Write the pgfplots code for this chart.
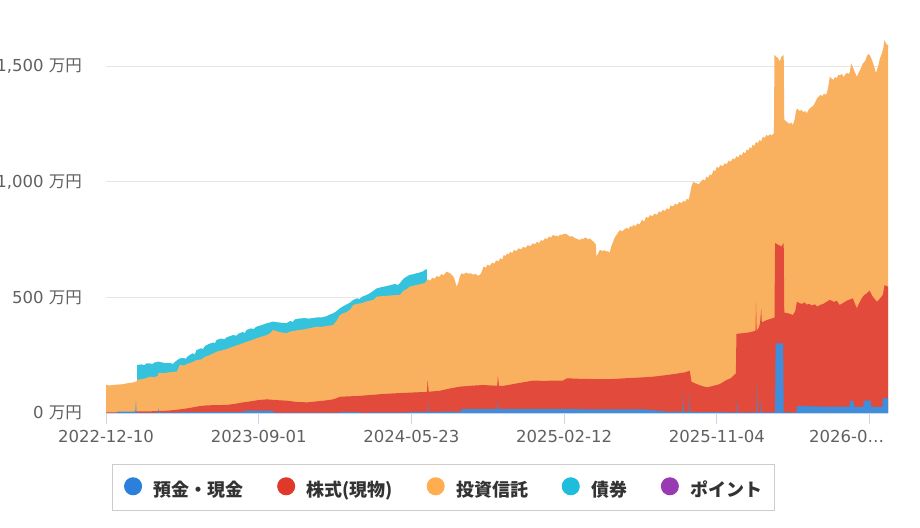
\documentclass[border=0pt]{standalone}
\usepackage{fontspec}
\setmainfont{DejaVu Sans}
\newfontfamily\cjk{Noto Sans CJK JP}
\usepackage{pgfplots}
\pgfplotsset{compat=1.18}
\usepackage{pgfplotstable}

\definecolor{cBlueA}{HTML}{3E8EDB}
\definecolor{cRedA}{HTML}{E24A3B}
\definecolor{cOrangeA}{HTML}{FAB15F}
\definecolor{cCyanA}{HTML}{35C2DD}
\definecolor{cBlue}{HTML}{2A80DA}
\definecolor{cRed}{HTML}{E0392B}
\definecolor{cOrange}{HTML}{FFAD4E}
\definecolor{cCyan}{HTML}{1EBDDC}
\definecolor{cPurple}{HTML}{9A3AB3}
\definecolor{gridc}{HTML}{E6E6E6}
\definecolor{axisc}{HTML}{CCD6EB}
\definecolor{tickc}{HTML}{606060}
\definecolor{legc}{HTML}{CCCCCC}
\definecolor{legtext}{HTML}{333333}

% x = days since 2022-12-10; y = top edge of each band (cumulative, in 万円)
% top of 債券 band
\pgfplotstableread{
d v
54 208
62 210
66 206
70 214
76 215
80 211
84 218
91 222
98 218
105 215
112 216
116 212
120 222
128 236
135 238
138 234
142 245
150 258
154 253
157 272
165 280
168 276
172 290
180 300
186 305
189 301
192 316
200 322
205 318
210 328
221 337
226 334
230 343
237 350
241 346
244 359
252 366
256 362
260 372
270 380
279 388
285 392
290 395
298 392
305 390
313 388
320 398
324 394
328 405
337 409
345 410
352 408
360 411
366 413
374 413
382 418
388 425
394 431
400 440
406 453
412 462
418 470
424 478
429 489
436 496
440 492
444 502
452 510
458 518
464 528
470 539
478 544
486 548
494 553
502 558
506 553
510 561
516 580
522 590
527 597
533 600
539 604
545 608
550 612
553 618
555 621
557 621
}\bondtbl

% top of 投資信託 band
\pgfplotstableread{
d v
0 122
6 119
12 121
20 123
28 124
36 128
44 131
50 134
53 137
54 143
62 146
70 151
76 157
84 155
90 160
91 174
100 172
110 176
123 179
128 208
135 205
142 213
150 220
157 229
165 231
172 243
180 250
192 265
200 270
210 277
221 287
230 295
237 301
244 308
252 314
260 322
270 330
279 337
285 345
290 359
298 352
305 348
313 345
320 352
328 356
337 359
345 362
352 366
360 370
366 373
374 372
382 376
388 378
394 380
400 398
406 424
412 431
418 437
424 448
429 467
436 472
444 475
452 482
458 486
464 489
470 503
478 505
486 506
494 508
502 510
510 510
516 528
522 536
527 546
533 550
539 553
545 557
550 560
553 561
557 575
559 578
563 572
566 585
570 580
574 592
578 588
582 600
586 596
591 611
597 604
603 589
606 570
608 546
611 560
614 590
617 604
621 600
625 607
629 602
633 604
637 598
641 602
645 594
649 597
652 610
655 633
659 628
662 641
666 636
670 650
674 646
677 660
681 655
684 669
688 664
690 683
693 678
696 690
699 685
701 697
705 692
708 705
712 700
716 712
720 707
724 718
728 714
732 726
736 721
741 734
744 729
748 740
752 735
755 748
758 743
762 756
765 751
769 763
772 758
776 770
779 765
782 767
785 763
788 772
791 768
794 775
799 774
803 766
806 762
809 765
812 758
815 755
818 752
822 748
825 753
828 752
831 758
834 756
837 750
840 755
843 746
846 741
850 728
851 676
854 690
857 705
862 700
865 704
868 698
871 700
874 693
877 722
880 740
883 760
886 770
889 782
892 791
895 785
898 790
901 797
904 800
907 795
910 808
913 804
915 813
919 808
922 820
926 815
930 835
934 828
937 848
941 843
944 856
948 850
952 862
956 857
960 872
963 867
966 878
970 873
973 885
977 880
980 898
984 893
988 905
991 900
995 912
999 907
1002 918
1005 913
1008 926
1011 921
1013 942
1016 980
1019 1000
1022 994
1024 995
1027 988
1030 993
1033 1002
1036 1010
1039 1004
1042 1022
1045 1017
1048 1032
1051 1027
1054 1050
1057 1044
1060 1065
1063 1058
1066 1072
1070 1066
1074 1080
1077 1075
1081 1092
1084 1086
1088 1101
1091 1096
1094 1110
1097 1104
1100 1118
1103 1113
1106 1128
1109 1122
1112 1140
1115 1134
1117 1149
1120 1144
1122 1160
1125 1154
1128 1172
1131 1166
1134 1180
1137 1175
1140 1195
1143 1189
1146 1202
1149 1197
1152 1205
1155 1200
1159 1210
1160 1548
1163 1540
1166 1535
1169 1519
1172 1540
1176 1548
1177 1267
1180 1262
1183 1255
1186 1250
1189 1256
1192 1245
1195 1270
1197 1300
1199 1317
1202 1310
1204 1305
1207 1311
1210 1300
1213 1306
1216 1296
1219 1310
1222 1318
1225 1324
1228 1330
1231 1345
1234 1361
1237 1368
1240 1375
1243 1370
1246 1380
1249 1376
1251 1383
1254 1420
1256 1454
1259 1446
1262 1440
1265 1452
1268 1448
1271 1462
1274 1460
1277 1466
1280 1452
1283 1464
1286 1470
1289 1465
1291 1476
1293 1512
1296 1495
1300 1470
1303 1454
1305 1466
1308 1480
1311 1495
1313 1510
1316 1518
1318 1525
1320 1541
1323 1552
1326 1545
1328 1532
1330 1520
1332 1505
1334 1490
1336 1469
1338 1485
1340 1500
1343 1533
1345 1545
1347 1560
1349 1580
1351 1613
1354 1595
1357 1591
}\fundtbl

% top of 株式(現物) band
\pgfplotstableread{
d v
0 3
20 3
40 3
47 4
53 7
70 7
88 8
106 10
120 13
141 20
150 24
163 30
175 33
190 34
210 35
225 40
238 46
250 50
265 56
279 59
290 57
300 55
315 53
330 48
349 46
365 50
380 54
394 59
400 64
406 70
420 72
435 73
450 76
460 78
480 82
500 85
527 88
545 90
557 91
558 143
560 92
579 96
595 105
614 114
635 118
654 121
668 119
679 118
680 164
682 117
689 117
700 122
713 128
725 133
741 140
760 139
775 140
793 140
800 150
820 148
840 147
857 146
874 146
900 150
932 154
950 157
973 164
990 170
1005 176
1013 183
1016 135
1025 125
1035 116
1043 111
1055 118
1065 125
1077 143
1084 150
1093 171
1094 342
1105 345
1115 348
1122 352
1127 355
1128 481
1129 355
1133 370
1135 389
1137 450
1138 392
1145 400
1157 410
1160 410
1161 735
1168 725
1172 720
1176 735
1177 434
1185 430
1192 424
1196 440
1199 481
1204 474
1208 472
1212 478
1216 468
1220 472
1225 465
1230 470
1234 460
1240 468
1245 472
1250 480
1256 489
1260 484
1264 480
1268 486
1273 467
1278 474
1282 480
1286 486
1290 490
1296 496
1300 470
1303 453
1306 470
1310 490
1313 502
1316 510
1320 517
1325 529
1328 515
1330 505
1334 492
1338 481
1343 495
1348 510
1351 553
1357 546
}\stocktbl

% 預金・現金 band
\pgfplotstableread{
d v
0 1
19 1
20 6
51 6
52 53
53 2
90 2
91 20
92 3
238 4
239 10
290 10
291 2
405 2
406 4
440 4
441 2
527 3
528 5
558 5
559 49
560 5
616 6
617 17
679 17
680 56
681 17
857 16
932 16
960 10
973 6
1000 6
1001 92
1002 6
1012 6
1013 86
1014 4
1094 3
1095 56
1096 3
1129 3
1130 130
1131 3
1136 3
1137 56
1138 3
1161 3
1162 301
1175 301
1176 3
1198 3
1199 30
1240 28
1290 28
1291 52
1297 52
1298 26
1314 26
1315 53
1327 53
1328 26
1347 26
1348 63
1357 63
}\cashtbl

\begin{document}
\begin{tikzpicture}[x=1pt,y=1pt]
\begin{axis}[
  at={(106pt,114pt)}, anchor=south west,
  scale only axis, width=782pt, height=381.69pt,
  xmin=0, xmax=1357, ymin=0, ymax=1650,
  axis line style={draw=none},
  xtick={0,265,530,795,1060,1325},
  xticklabels={2022-12-10,2023-09-01,2024-05-23,2025-02-12,2025-11-04,{\hspace*{-46pt}2026-0…}},
  ytick={0,500,1000,1500},
  yticklabels={{0\ {\cjk 万円}},{500\ {\cjk 万円}},{1,000\ {\cjk 万円}},{1,500\ {\cjk 万円}}},
  ymajorgrids, grid style={draw=gridc, line width=1pt},
  xtick pos=bottom, ytick pos=left,
  xtick align=outside, ytick align=inside, major tick length=11pt,
  xtick style={draw=axisc, line width=1pt},
  ytick style={draw=none},
  tick label style={font=\fontsize{16.5}{18}\selectfont, text=tickc},
  yticklabel style={inner sep=0pt, xshift=-24pt, anchor=east},
  xticklabel style={inner sep=0pt, yshift=-6pt},
  legend columns=5,
  legend style={
    at={(0.4313,-0.1958)}, anchor=center,
    draw=legc, line width=1pt, fill=white,
    inner xsep=12pt, inner ysep=12.5pt,
    font=\cjk\bfseries\fontsize{18}{20}\selectfont, text=legtext,
    nodes={inner sep=0pt},
    /tikz/every odd column/.append style={column sep=11.6pt},
    /tikz/every even column/.append style={column sep=33.5pt},
  },
]
\addlegendimage{legend image code/.code={\fill[cBlue] (8.5pt,0.6ex) circle (8.5pt);}}
\addlegendimage{legend image code/.code={\fill[cRed] (8.5pt,0.6ex) circle (8.5pt);}}
\addlegendimage{legend image code/.code={\fill[cOrange] (8.5pt,0.6ex) circle (8.5pt);}}
\addlegendimage{legend image code/.code={\fill[cCyan] (8.5pt,0.6ex) circle (8.5pt);}}
\addlegendimage{legend image code/.code={\fill[cPurple] (8.5pt,0.6ex) circle (8.5pt);}}
\legend{預金・現金,株式(現物),投資信託,債券,ポイント}

\addplot[draw=none, fill=cCyanA, forget plot] table[x=d, y=v]{\bondtbl} \closedcycle;
\addplot[draw=none, fill=cOrangeA, forget plot] table[x=d, y=v]{\fundtbl} \closedcycle;
\addplot[draw=none, fill=cRedA, forget plot] table[x=d, y=v]{\stocktbl} \closedcycle;
\addplot[draw=none, fill=cBlueA, forget plot] table[x=d, y=v]{\cashtbl} \closedcycle;
\draw[axisc, line width=1pt] (axis cs:0,0) -- (axis cs:1357,0);
\end{axis}
\pgfresetboundingbox
\useasboundingbox (0,0) rectangle (920pt,527pt);
\end{tikzpicture}
\end{document}
